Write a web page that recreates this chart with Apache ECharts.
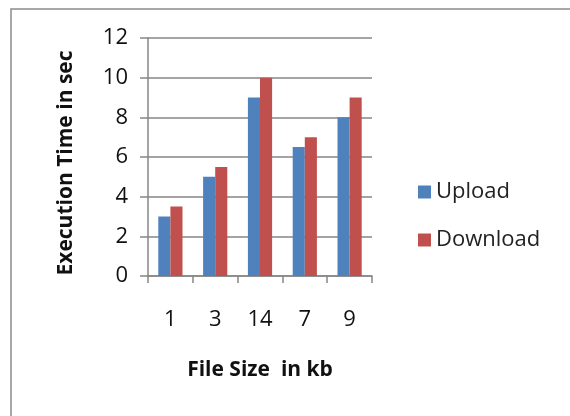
<!DOCTYPE html>
<html>
<head>
<meta charset="utf-8">
<script src="https://cdn.jsdelivr.net/npm/echarts@6/dist/echarts.min.js"></script>
<style>
  html, body { margin: 0; padding: 0; background: #fff; }
  #chart { width: 570px; height: 416px; }
</style>
</head>
<body>
<div id="chart"></div>
<script>
const fileSizes = ['1', '3', '14', '7', '9']
const upload = [3, 5, 9, 6.5, 8]
const download = [3.5, 5.5, 10, 7, 9]

const font = '"Open Sans", "Liberation Sans", sans-serif'
const chart = echarts.init(document.getElementById('chart'))

chart.setOption({
  animation: false,
  textStyle: { fontFamily: font },
  graphic: [{
    type: 'rect',
    shape: { x: 11, y: 9, width: 600, height: 450 },
    style: { fill: 'none', stroke: '#8c8c8c', lineWidth: 1.5 }
  }],
  color: ['#4f81bd', '#c0504d'],
  grid: { left: 148, top: 38, width: 224, height: 238 },
  legend: {
    orient: 'vertical',
    left: 413,
    top: 176,
    itemWidth: 13,
    itemHeight: 13,
    itemGap: 26,
    icon: 'rect',
    textStyle: { fontSize: 22, lineHeight: 22, color: '#222', fontFamily: font },
    data: ['Upload', 'Download']
  },
  xAxis: {
    type: 'category',
    data: fileSizes,
    name: 'File Size  in kb',
    nameLocation: 'middle',
    nameGap: 84,
    nameTextStyle: { fontSize: 21, fontWeight: 'bold', color: '#111' },
    axisLine: { lineStyle: { color: '#868686', width: 1.5 } },
    axisTick: { show: true, length: 7, lineStyle: { color: '#868686', width: 1.5 } },
    axisLabel: { margin: 33, fontSize: 22, color: '#111' }
  },
  yAxis: {
    type: 'value',
    min: 0,
    max: 12,
    interval: 2,
    name: 'Execution Time in sec',
    nameLocation: 'middle',
    nameGap: 71,
    nameTextStyle: { fontSize: 21, fontWeight: 'bold', color: '#111', padding: [0, 12, 0, 0] },
    axisLine: { show: true, lineStyle: { color: '#868686', width: 1.5 } },
    axisTick: { show: true, length: 8, lineStyle: { color: '#868686', width: 1.5 } },
    axisLabel: { margin: 20, fontSize: 22, color: '#111' },
    splitLine: { lineStyle: { color: '#868686', width: 1.5 } }
  },
  series: [
    { name: 'Upload', type: 'bar', data: upload, barGap: 0, barCategoryGap: '46%' },
    { name: 'Download', type: 'bar', data: download, barGap: 0, barCategoryGap: '46%' }
  ]
})
</script>
</body>
</html>
